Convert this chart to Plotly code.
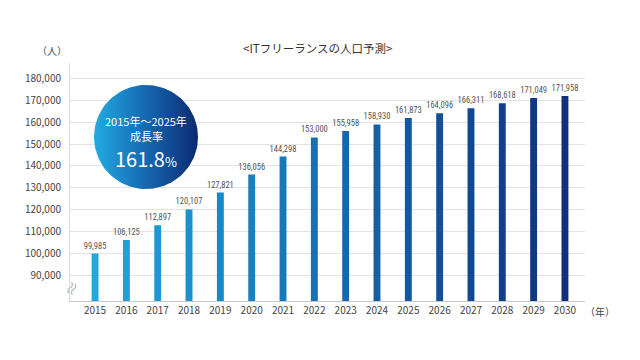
import numpy as np
import plotly.graph_objects as go

years = ["2015", "2016", "2017", "2018", "2019", "2020", "2021", "2022",
         "2023", "2024", "2025", "2026", "2027", "2028", "2029", "2030"]
people = [99985, 106125, 112897, 120107, 127821, 136056, 144298, 153000,
          155958, 158930, 161873, 164096, 166311, 168618, 171049, 171958]
ytick_vals = [90000, 100000, 110000, 120000, 130000, 140000, 150000,
              160000, 170000, 180000]
ytick_text = ["{:,}".format(v) for v in ytick_vals]
title_text = "<ITフリーランスの人口予測>"
badge_line1 = "2015年～2025年"
badge_line2 = "成長率"
badge_value = "161.8"

JP = "Noto Sans CJK JP, Noto Sans, sans-serif"
NARROW = "Liberation Sans Narrow, Roboto Condensed, Noto Sans CJK JP, sans-serif"

W, H = 640, 360
L, R, T, B = 70, 55, 63, 59

c0 = np.array([31, 168, 224])
c1 = np.array([15, 48, 124])
n = len(years)
colors = []
for i in range(n):
    t = i / (n - 1)
    c = (c0 * (1 - t) + c1 * t).round().astype(int)
    colors.append("rgb({},{},{})".format(*c))

fig = go.Figure()
fig.add_trace(go.Bar(
    x=years, y=people, width=0.22,
    marker=dict(color=colors, line=dict(width=0)),
    text=["{:,}".format(v) for v in people],
    textposition="outside", cliponaxis=False, constraintext="none",
    textfont=dict(size=8.5, color="#555555", family=NARROW),
    hoverinfo="skip", showlegend=False,
))

# gradient badge (decoration) on a pixel-like overlay axis
theta = np.linspace(0, 2 * np.pi, 120)
cx, cy, r = 146, 137, 52
fig.add_trace(go.Scatter(
    x=cx + r * np.cos(theta), y=cy + r * np.sin(theta),
    xaxis="x2", yaxis="y2", mode="lines", line=dict(width=0),
    fill="toself",
    fillgradient=dict(type="horizontal",
                      colorscale=[[0, "#22abe3"], [0.5, "#1668b0"], [1, "#0a2a72"]]),
    hoverinfo="skip", showlegend=False,
))

fig.update_layout(
    width=W, height=H,
    margin=dict(l=L, r=R, t=T, b=B),
    paper_bgcolor="white", plot_bgcolor="white",
    xaxis=dict(
        type="category", range=[-0.8, 15.64],
        showgrid=False, showline=True, linecolor="#c8c8c8", linewidth=1,
        ticks="", tickfont=dict(size=10, color="#444444", family=JP),
        fixedrange=True,
    ),
    yaxis=dict(
        range=[78300, 187000], tickvals=ytick_vals, ticktext=ytick_text,
        showgrid=True, gridcolor="#e3e3e3", gridwidth=1,
        showline=True, linecolor="#dddddd", linewidth=1,
        zeroline=False, ticks="", ticklabelstandoff=6,
        tickfont=dict(size=10, color="#444444", family=JP),
        fixedrange=True,
    ),
    xaxis2=dict(overlaying="x", range=[L, W - R], visible=False, fixedrange=True),
    yaxis2=dict(overlaying="y", range=[H - B, T], visible=False, fixedrange=True),
    font=dict(family=JP),
)

# texts outside the plot area, placed in paper coords
for text, x, y, size, col in [
    (title_text, 317, 48, 11.5, "#333333"),
    ("（人）", 52, 51, 10, "#444444"),
    ("（年）", 600, 311, 10, "#444444"),
]:
    fig.add_annotation(xref="paper", yref="paper", x=(x - L) / (W - L - R),
                       y=1 - (y - T) / (H - T - B), text=text, showarrow=False,
                       xanchor="center", yanchor="middle",
                       font=dict(size=size, color=col))

for a in [
    dict(text=badge_line1, x=cx, y=121, font=dict(size=11, color="white")),
    dict(text=badge_line2, x=cx, y=135.5, font=dict(size=11, color="white")),
    dict(text=badge_value + "<span style='font-size:13px'>%</span>", x=cx, y=158,
         font=dict(size=20, color="white")),
    dict(text="≈", x=71, y=288, textangle=-65, font=dict(size=16, color="#b5b5b5")),
]:
    fig.add_annotation(xref="x2", yref="y2", showarrow=False,
                       xanchor="center", yanchor="middle", **a)

fig.write_html("out.html", config={"displayModeBar": False},
               post_script="document.body.style.margin='0';document.body.style.padding='0';")
